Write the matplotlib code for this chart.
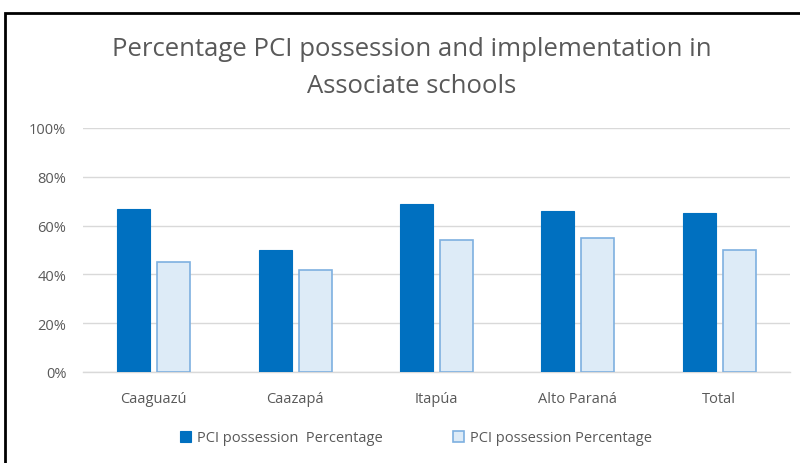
import matplotlib.pyplot as plt
import numpy as np
from matplotlib.patches import Rectangle

categories = ['Caaguazú', 'Caazapá', 'Itapúa', 'Alto Paraná', 'Total']
possession = [67, 50, 69, 66, 65]
implementation = [45, 42, 54, 55, 50]
labels = ['PCI possession  Percentage', 'PCI possession Percentage']
title = 'Percentage PCI possession and implementation in\nAssociate schools'

plt.rcParams['font.family'] = ['Open Sans', 'DejaVu Sans']

W, H = 800, 464
fig = plt.figure(figsize=(8, 4.64), dpi=100)

# outer frame (cut at right and bottom like the screenshot)
fig.patches.append(Rectangle((5 / W, -0.1), 1.2, (H - 14) / H + 0.1,
                             transform=fig.transFigure, fill=False,
                             edgecolor='black', linewidth=2))

ax = fig.add_axes([83 / W, (H - 373) / H, 707 / W, 244 / H])
x = np.arange(len(categories))
w = 0.233
ax.bar(x - w / 2 - 0.025, possession, w, color='#0070C0', edgecolor='#0070C0',
       linewidth=0.8, label=labels[0], zorder=3)
ax.bar(x + w / 2 + 0.025, implementation, w, color='#DDEBF7', edgecolor='#7EB0E0',
       linewidth=1.2, label=labels[1], zorder=3)

ax.set_xlim(-0.5, len(categories) - 0.5)
ax.set_ylim(0, 100)
ax.set_yticks(range(0, 101, 20))
ax.set_yticklabels([f'{v}%' for v in range(0, 101, 20)])
ax.set_xticks(x)
ax.set_xticklabels(categories)
ax.tick_params(axis='both', length=0, labelsize=10.5, colors='#595959', pad=14)
ax.tick_params(axis='y', pad=12)
ax.grid(axis='y', color='#D9D9D9', linewidth=1, zorder=0)
for s in ['top', 'right', 'left']:
    ax.spines[s].set_visible(False)
ax.spines['bottom'].set_color('#D9D9D9')
ax.spines['bottom'].set_linewidth(1)

fig.text(412 / W, 1 - 68 / H, title, ha='center', va='center',
         fontsize=18.5, color='#595959', linespacing=1.6)

fig.legend(loc='center', bbox_to_anchor=(416 / W, 1 - 439 / H), ncol=2,
           frameon=False, fontsize=10.5, labelcolor='#595959',
           handlelength=0.75, handleheight=0.75, handletextpad=0.45,
           columnspacing=4.8)

fig.savefig('out.png', dpi=100, facecolor='white')
